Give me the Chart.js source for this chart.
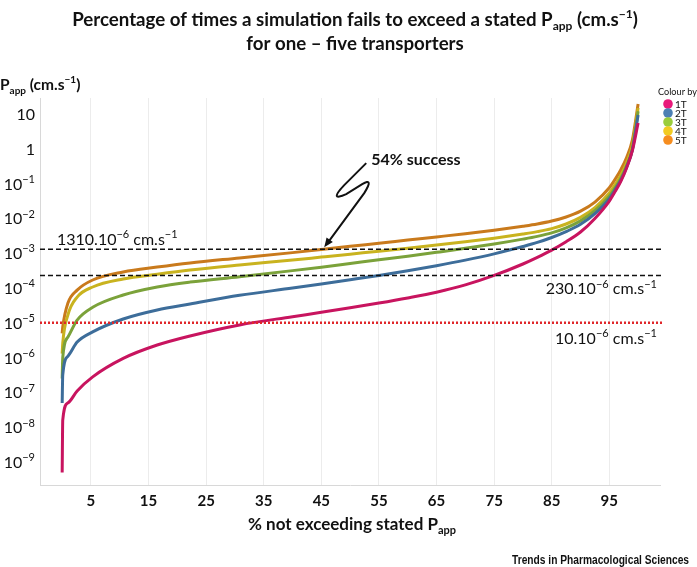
<!DOCTYPE html>
<html>
<head>
<meta charset="utf-8">
<script src="https://cdn.jsdelivr.net/npm/chart.js@4.4.1/dist/chart.umd.min.js"></script>
<style>
  html, body { margin: 0; padding: 0; background: #fff; }
  #wrap { width: 697px; height: 567px; position: relative; }
</style>
</head>
<body>
<div id="wrap"><canvas id="chart" width="697" height="567"></canvas></div>
<script>
const FONT = "Lato, 'Open Sans', sans-serif";

// % of simulations not exceeding the stated Papp
const pctX = [0, 0.1, 1, 2.6, 5.3, 10.6, 16.5, 22.2, 30.8, 40, 45, 50, 55, 60, 65, 70, 75, 80, 82.5, 85, 87.5, 90, 92.5, 95, 96, 97, 98, 99, 100];

// Papp (cm.s-1) for one to five transporters
const papp1T = [5.0e-10, 1.6e-8, 5.0e-8, 1.1e-7, 2.8e-7, 9.5e-7, 2.3e-6, 4.2e-6, 8.7e-6, 1.5e-5, 2.0e-5, 2.7e-5, 3.7e-5, 5.2e-5, 7.6e-5, 1.23e-4, 2.3e-4, 4.9e-4, 7.59e-4, 1.23e-3, 2.14e-3, 4.07e-3, 1.0e-2, 3.16e-2, 5.89e-2, 0.117, 0.282, 0.891, 5.5];
const papp2T = [5.0e-8, 3.2e-7, 1.1e-6, 2.8e-6, 5.5e-6, 1.29e-5, 2.34e-5, 3.47e-5, 6.17e-5, 1.0e-4, 1.31e-4, 1.73e-4, 2.3e-4, 3.14e-4, 4.39e-4, 6.34e-4, 9.6e-4, 1.56e-3, 2.04e-3, 2.83e-3, 4.17e-3, 6.76e-3, 1.38e-2, 3.72e-2, 6.61e-2, 0.126, 0.295, 0.933, 9.3];
const papp3T = [2.5e-7, 1.0e-6, 3.9e-6, 1.2e-5, 2.8e-5, 6.3e-5, 1.07e-4, 1.48e-4, 2.11e-4, 3.16e-4, 3.98e-4, 5.07e-4, 6.46e-4, 8.22e-4, 1.06e-3, 1.38e-3, 1.84e-3, 2.54e-3, 3.05e-3, 3.85e-3, 5.37e-3, 8.51e-3, 1.66e-2, 4.37e-2, 7.59e-2, 0.141, 0.324, 0.955, 12];
const papp4T = [1.3e-6, 2.6e-6, 1.7e-5, 5.5e-5, 1.07e-4, 1.82e-4, 2.5e-4, 3.3e-4, 4.6e-4, 6.35e-4, 7.73e-4, 9.4e-4, 1.14e-3, 1.39e-3, 1.71e-3, 2.13e-3, 2.71e-3, 3.57e-3, 4.17e-3, 5.1e-3, 6.92e-3, 1.07e-2, 2.04e-2, 5.37e-2, 9.33e-2, 0.174, 0.398, 1.26, 15];
const papp5T = [5.0e-6, 7.6e-6, 3.7e-5, 8.7e-5, 1.7e-4, 2.9e-4, 4.0e-4, 5.25e-4, 7.3e-4, 1.04e-3, 1.28e-3, 1.58e-3, 1.94e-3, 2.39e-3, 2.94e-3, 3.63e-3, 4.57e-3, 5.96e-3, 6.92e-3, 8.4e-3, 1.10e-2, 1.62e-2, 2.95e-2, 7.59e-2, 0.132, 0.251, 0.562, 1.78, 19.5];

const seriesNames = ['1T', '2T', '3T', '4T', '5T'];
const seriesData = [papp1T, papp2T, papp3T, papp4T, papp5T];
const lineColours = ['#c8145f', '#3d6d9a', '#7ba23a', '#c9b31f', '#c97a1c'];
const legendColours = ['#e8197a', '#4c80b4', '#9acd3c', '#f2cb22', '#f68d1f'];

const xTicks = [5, 15, 25, 35, 45, 55, 65, 75, 85, 95];
const yTicks = [1e-9, 1e-8, 1e-7, 1e-6, 1e-5, 1e-4, 1e-3, 1e-2, 1e-1, 1, 10];

// reference thresholds
const refValues = [1.31e-3, 2.3e-4, 1e-5];
const refLabels = ['1310', '230', '10'];

function drawRich(ctx, segs, x, y, size, weight, align, color) {
  const small = Math.round(size * 0.66);
  let w = 0;
  const parts = segs.map(([t, k]) => {
    const fs = k ? small : size;
    ctx.font = `${weight} ${fs}px ${FONT}`;
    const pw = ctx.measureText(t).width;
    w += pw;
    return { t, k, fs, pw };
  });
  let cx = align === 'center' ? x - w / 2 : align === 'right' ? x - w : x;
  ctx.save();
  ctx.fillStyle = color || '#111';
  ctx.textBaseline = 'alphabetic';
  ctx.textAlign = 'left';
  for (const p of parts) {
    ctx.font = `${weight} ${p.fs}px ${FONT}`;
    const dy = p.k === 'sup' ? -size * 0.42 : p.k === 'sub' ? size * 0.24 : 0;
    ctx.fillText(p.t, cx, y + dy);
    cx += p.pw;
  }
  ctx.restore();
  return w;
}

function yLabel(v) {
  const e = Math.round(Math.log10(v));
  if (e === 1) return [['10', '']];
  if (e === 0) return [['1', '']];
  return [['10', ''], ['\u2212' + (-e), 'sup']];
}

const overlay = {
  id: 'overlay',
  afterDatasetsDraw(chart) {
    const { ctx, chartArea: a, scales: { x, y } } = chart;
    ctx.save();
    // threshold lines
    refValues.forEach((v, i) => {
      const py = y.getPixelForValue(v);
      ctx.beginPath();
      if (i === 2) {
        ctx.strokeStyle = '#e0262a';
        ctx.lineWidth = 2.5;
        ctx.setLineDash([2, 2]);
      } else {
        ctx.strokeStyle = '#111';
        ctx.lineWidth = 1.5;
        ctx.setLineDash([5, 3]);
      }
      ctx.moveTo(a.left, py);
      ctx.lineTo(a.right + 2, py);
      ctx.stroke();
      const segs = [[refLabels[i] + '.10', ''], ['\u22126', 'sup'], [' cm.s', ''], ['\u22121', 'sup']];
      if (i === 0) drawRich(ctx, segs, a.left + 17, py - 4, 16, 'normal', 'left');
      else drawRich(ctx, segs, a.right - 3, py + (i === 1 ? 19 : 21), 16, 'normal', 'right');
    });
    ctx.setLineDash([]);

    // "54% success" arrow, tip on the 5T curve at the 1310 threshold
    const tx = x.getPixelForValue(45.5), ty = y.getPixelForValue(refValues[0]) - 2;
    ctx.strokeStyle = '#111';
    ctx.fillStyle = '#111';
    ctx.lineWidth = 2;
    ctx.beginPath();
    ctx.moveTo(tx + 42, ty - 84);
    ctx.lineTo(tx + 20, ty - 62);
    ctx.quadraticCurveTo(tx + 4, ty - 45, tx + 22, ty - 53);
    ctx.lineTo(tx + 38, ty - 63);
    ctx.quadraticCurveTo(tx + 50, ty - 70, tx + 40, ty - 54);
    ctx.lineTo(tx + 4, ty - 5);
    ctx.stroke();
    const ang = Math.atan2(54, -40);
    ctx.beginPath();
    ctx.moveTo(tx, ty);
    ctx.lineTo(tx - 10 * Math.cos(ang - 0.4), ty - 10 * Math.sin(ang - 0.4));
    ctx.lineTo(tx - 10 * Math.cos(ang + 0.4), ty - 10 * Math.sin(ang + 0.4));
    ctx.closePath();
    ctx.fill();
    drawRich(ctx, [['54% success', '']], tx + 47, ty - 82, 16, 'bold', 'left');
    ctx.restore();
  },
  afterDraw(chart) {
    const { ctx, scales: { y } } = chart;
    // y tick labels with superscript exponents
    y.ticks.forEach(t => {
      drawRich(ctx, yLabel(t.value), 35, y.getPixelForValue(t.value) + 6, 16, 'normal', 'right');
    });
    // titles
    drawRich(ctx, [['Percentage of times a simulation fails to exceed a stated P', ''], ['app', 'sub'], [' (cm.s', ''], ['\u22121', 'sup'], [')', '']], 355, 26, 18.7, 'bold', 'center');
    drawRich(ctx, [['for one \u2013 five transporters', '']], 355, 50, 18.7, 'bold', 'center');
    drawRich(ctx, [['P', ''], ['app', 'sub'], [' (cm.s', ''], ['\u22121', 'sup'], [')', '']], 0, 90, 15.5, 'bold', 'left');
    drawRich(ctx, [['% not exceeding stated P', ''], ['app', 'sub']], 352, 530, 17, 'bold', 'center');
    // footer
    ctx.save();
    ctx.font = "bold 12px 'Liberation Sans', Arial, sans-serif";
    ctx.fillStyle = '#111';
    ctx.textAlign = 'right';
    ctx.fillText('Trends in Pharmacological Sciences', 689, 564, 177);
    // legend
    ctx.textAlign = 'left';
    ctx.font = `normal 10px ${FONT}`;
    ctx.fillText('Colour by', 658, 95, 39);
    seriesNames.forEach((n, i) => {
      const cy = 104 + i * 9;
      ctx.beginPath();
      ctx.fillStyle = legendColours[i];
      ctx.arc(668, cy, 4.8, 0, Math.PI * 2);
      ctx.fill();
      ctx.fillStyle = '#111';
      ctx.fillText(n, 675, cy + 4);
    });
    ctx.restore();
  }
};

new Chart(document.getElementById('chart').getContext('2d'), {
  type: 'line',
  data: {
    datasets: seriesNames.map((n, i) => ({
      label: n,
      data: pctX.map((px, j) => ({ x: px, y: seriesData[i][j] })),
      borderColor: lineColours[i],
      backgroundColor: lineColours[i],
      borderWidth: 3,
      pointRadius: 0,
      cubicInterpolationMode: 'monotone',
      fill: false
    }))
  },
  options: {
    responsive: false,
    animation: false,
    layout: { padding: { top: 98, right: 37, left: 0, bottom: 0 } },
    plugins: { legend: { display: false }, tooltip: { enabled: false }, title: { display: false } },
    scales: {
      x: {
        type: 'linear',
        min: -3.85,
        max: 103.8,
        afterBuildTicks: s => { s.ticks = xTicks.map(v => ({ value: v })); },
        afterFit: s => { s.height = 81.3; },
        ticks: { color: '#111', font: { family: FONT, size: 15, weight: 'bold' }, padding: 6 },
        grid: { color: '#ececec', drawTicks: false },
        border: { color: '#d8d8d8' }
      },
      y: {
        type: 'logarithmic',
        min: Math.pow(10, -9.68),
        max: Math.pow(10, 1.46),
        afterBuildTicks: s => { s.ticks = yTicks.map(v => ({ value: v })); },
        afterFit: s => { s.width = 40; },
        ticks: { display: false },
        grid: { display: false },
        border: { color: '#d8d8d8' }
      }
    }
  },
  plugins: [overlay]
});
</script>
</body>
</html>
